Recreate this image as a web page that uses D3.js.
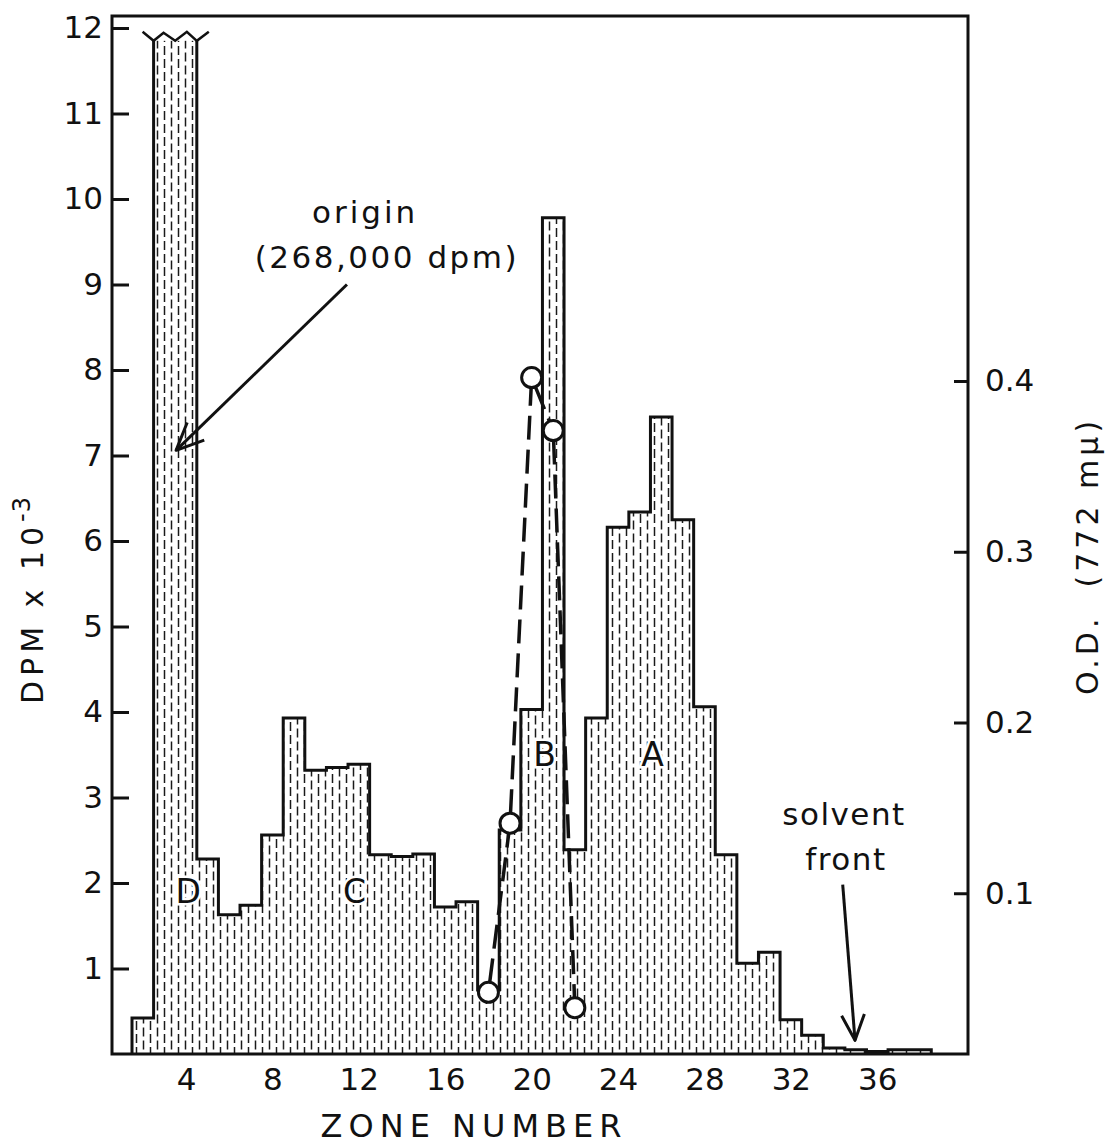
<!DOCTYPE html>
<html>
<head>
<meta charset="utf-8">
<script src="https://cdn.jsdelivr.net/npm/d3@7"></script>
<style>
  html, body { margin: 0; padding: 0; background: #fff; }
  svg { display: block; }
</style>
</head>
<body>
<svg id="chart" width="1110" height="1144"></svg>
<script>
// ---------------- data ----------------
const zones = [2,3,4,5,6,7,8,9,10,11,12,13,14,15,16,17,18,19,20,21,22,23,24,25,26,27,28,29,30,31,32,33,34,35,36,37,38];
const dpmValues = [0.42,11.85,11.85,2.28,1.63,1.74,2.56,3.93,3.32,3.35,3.39,2.33,2.31,2.34,1.72,1.78,0.75,2.62,4.03,9.78,2.39,3.93,6.16,6.34,7.45,6.25,4.06,2.33,1.06,1.19,0.40,0.22,0.07,0.05,0.03,0.05,0.05];
const brokenZones = [3,4];             // off-scale origin zones (268,000 dpm), drawn with a break
const odZones = [18,19,20,21,22];
const odValues = [0.042,0.141,0.402,0.371,0.033];
const dpmTicks = [1,2,3,4,5,6,7,8,9,10,11,12];
const odTicks = [0.1,0.2,0.3,0.4];
const zoneTicks = [4,8,12,16,20,24,28,32,36];
const peakNames = ["D","C","B","A"];
const peakZones = [4.1,11.8,20.6,25.6];
const peakLevels = [1.9,1.9,3.5,3.5];
const xTitle = "ZONE NUMBER";
const yTitle = "DPM x 10";
const yTitleExp = "-3";
const y2Title = "O.D.  (772 mμ)";

// ---------------- layout ----------------
const FONT = "'DejaVu Sans', 'Noto Sans', sans-serif";
const pL = 112, pR = 968, pT = 16, pB = 1054;

const x = d3.scaleLinear().domain([0.574, 40.2]).range([pL, pR]);
const y = d3.scaleLinear().domain([0, 12]).range([pB, 28]);
const yOD = d3.scaleLinear().domain([0, 0.4]).range([1064, 381]);

const svg = d3.select("#chart");

// hatch pattern
const defs = svg.append("defs");
const pat = defs.append("pattern").attr("id", "hatch")
  .attr("patternUnits", "userSpaceOnUse").attr("width", 14).attr("height", 13);
pat.append("rect").attr("width", 14).attr("height", 13).attr("fill", "#fff");
const hatchLines = [[3.5, 0.5, 9.5], [10.5, 7, 13], [10.5, 0, 3]];
hatchLines.forEach(([hx, y1, y2]) => {
  pat.append("line").attr("x1", hx).attr("x2", hx).attr("y1", y1).attr("y2", y2)
    .attr("stroke", "#1a1a1a").attr("stroke-width", 1.5);
});

const bars = zones.map((z, i) => ({ z, v: dpmValues[i], broken: brokenZones.includes(z) }));

// bar fills
svg.append("g").selectAll("rect").data(bars).join("rect")
  .attr("x", d => x(d.z - 0.5))
  .attr("width", d => x(d.z + 0.5) - x(d.z - 0.5) + 0.5)
  .attr("y", d => y(d.v))
  .attr("height", d => y(0) - y(d.v))
  .attr("fill", "url(#hatch)");

// step outline
const p = d3.path();
bars.forEach((d, i) => {
  const x0 = x(d.z - 0.5), x1 = x(d.z + 0.5), t = y(d.v);
  const prev = bars[i - 1];
  if (i === 0) { p.moveTo(x0, y(0)); p.lineTo(x0, t); }
  else if (prev.broken && !d.broken) { p.moveTo(x0, y(prev.v)); p.lineTo(x0, t); }
  else if (d.broken && prev.broken) { /* continuation of break */ }
  else p.lineTo(x0, t);
  if (!d.broken) p.lineTo(x1, t);
});
p.lineTo(x(bars[bars.length - 1].z + 0.5), y(0));
svg.append("path").attr("d", p.toString())
  .attr("fill", "none").attr("stroke", "#111").attr("stroke-width", 3)
  .attr("stroke-linejoin", "miter");

// break (zigzag) on top of the origin bar
const bz = bars.filter(d => d.broken);
const bL = x(bz[0].z - 0.5), bR = x(bz[bz.length - 1].z + 0.5), bT = y(bz[0].v), bW = bR - bL;
const zig = [[bL - 11, bT - 9], [bL, bT], [bL + 0.23 * bW, bT - 8], [bL + 0.5 * bW, bT], [bL + 0.77 * bW, bT - 9], [bR, bT], [bR + 12, bT - 9]];
svg.append("path").attr("d", d3.line()(zig))
  .attr("fill", "none").attr("stroke", "#111").attr("stroke-width", 2.5);

// frame
svg.append("path")
  .attr("d", `M${pL},${pT}H${pR}V${pB}H${pL}Z`)
  .attr("fill", "none").attr("stroke", "#111").attr("stroke-width", 3);

// left axis
const gy = svg.append("g").attr("transform", `translate(${pL},0)`)
  .call(d3.axisLeft(y).tickValues(dpmTicks).tickSizeInner(-17).tickSizeOuter(0).tickPadding(9).tickFormat(d3.format("d")));
gy.select(".domain").remove();
gy.selectAll(".tick line").attr("stroke", "#111").attr("stroke-width", 3);
gy.selectAll("text").attr("font-family", FONT).attr("font-size", 31).attr("fill", "#111");

// right axis
const gr = svg.append("g").attr("transform", `translate(${pR},0)`)
  .call(d3.axisRight(yOD).tickValues(odTicks).tickSizeInner(-14).tickSizeOuter(0).tickPadding(17).tickFormat(d3.format(".1f")));
gr.select(".domain").remove();
gr.selectAll(".tick line").attr("stroke", "#111").attr("stroke-width", 3);
gr.selectAll("text").attr("font-family", FONT).attr("font-size", 31).attr("fill", "#111");

// bottom axis
const gx = svg.append("g").attr("transform", `translate(0,${pB})`)
  .call(d3.axisBottom(x).tickValues(zoneTicks).tickSize(0).tickPadding(14).tickFormat(d3.format("d")));
gx.select(".domain").remove();
gx.selectAll("text").attr("font-family", FONT).attr("font-size", 31).attr("fill", "#111");

// OD dashed line + circles
const odPts = odZones.map((z, i) => [x(z), yOD(odValues[i])]);
const R0 = 10;
for (let i = 0; i < odPts.length - 1; i++) {
  const [ax, ay] = odPts[i], [bx, by] = odPts[i + 1];
  const len = Math.hypot(bx - ax, by - ay), ux = (bx - ax) / len, uy = (by - ay) / len;
  svg.append("line")
    .attr("x1", ax + ux * R0).attr("y1", ay + uy * R0)
    .attr("x2", bx - ux * R0).attr("y2", by - uy * R0)
    .attr("stroke", "#111").attr("stroke-width", 3.5)
    .attr("stroke-dasharray", "24 10");
}
svg.append("g").selectAll("circle").data(odPts).join("circle")
  .attr("cx", d => d[0]).attr("cy", d => d[1]).attr("r", R0)
  .attr("fill", "#fff").attr("stroke", "#111").attr("stroke-width", 3);

// peak letters
svg.append("g").selectAll("text").data(peakNames).join("text")
  .attr("x", (d, i) => x(peakZones[i])).attr("y", (d, i) => y(peakLevels[i]))
  .attr("text-anchor", "middle").attr("dominant-baseline", "central")
  .attr("font-family", FONT).attr("font-size", 33).attr("fill", "#111")
  .attr("stroke", "#fff").attr("stroke-width", 5).attr("paint-order", "stroke")
  .text(d => d);

// annotations
function arrow(z0, v0, z1, v1, head) {
  const x0 = x(z0), y0 = y(v0), x1 = x(z1), y1 = y(v1);
  const a = Math.atan2(y0 - y1, x0 - x1);
  svg.append("line").attr("x1", x0).attr("y1", y0).attr("x2", x1).attr("y2", y1)
    .attr("stroke", "#111").attr("stroke-width", 3);
  const h = [[x1 + head * Math.cos(a - 0.42), y1 + head * Math.sin(a - 0.42)], [x1, y1],
             [x1 + head * Math.cos(a + 0.42), y1 + head * Math.sin(a + 0.42)]];
  svg.append("path").attr("d", d3.line()(h)).attr("fill", "none")
    .attr("stroke", "#111").attr("stroke-width", 3).attr("stroke-linejoin", "round");
}
function note(z, v, txt, ls) {
  svg.append("text").attr("x", x(z)).attr("y", y(v)).attr("text-anchor", "middle")
    .attr("font-family", FONT).attr("font-size", 31).attr("letter-spacing", ls).attr("fill", "#111")
    .text(txt);
}
note(12.29, 9.72, "origin", 3);
note(13.3, 9.19, "(268,000 dpm)", 2.5);
arrow(11.45, 9.0, 3.54, 7.06, 30);
note(34.46, 2.68, "solvent", 1.5);
note(34.55, 2.15, "front", 1.5);
arrow(34.4, 1.98, 34.97, 0.16, 28);

// axis titles
svg.append("text").attr("x", 474).attr("y", 1137)
  .attr("text-anchor", "middle").attr("font-family", FONT).attr("font-size", 32)
  .attr("letter-spacing", 6).attr("fill", "#111").text(xTitle);

const yt = svg.append("text").attr("transform", "translate(43,600) rotate(-90)")
  .attr("text-anchor", "middle").attr("font-family", FONT).attr("font-size", 30)
  .attr("letter-spacing", 5).attr("fill", "#111");
yt.append("tspan").text(yTitle);
yt.append("tspan").attr("dy", -13).attr("font-size", 24).attr("letter-spacing", 1).text(yTitleExp);

svg.append("text").attr("transform", "translate(1098,556) rotate(-90)")
  .attr("text-anchor", "middle").attr("font-family", FONT).attr("font-size", 30)
  .attr("letter-spacing", 4).attr("fill", "#111").attr("xml:space", "preserve").text(y2Title);
</script>
</body>
</html>
